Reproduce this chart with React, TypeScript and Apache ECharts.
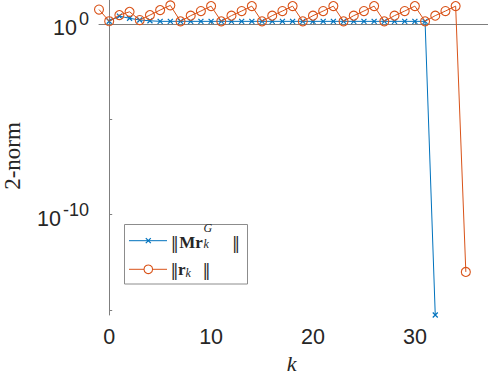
import React, { useEffect, useRef } from "react";
import * as echarts from "echarts";

// ---- data ----
const kBlue = [0, 1, 2, 3, 4, 5, 6, 7, 8, 9, 10, 11, 12, 13, 14, 15, 16, 17, 18, 19, 20, 21, 22, 23, 24, 25, 26, 27, 28, 29, 30, 31, 32];
const mrNorm = [1.4, 2.6, 2.0, 1.62, 1.48, 1.38, 1.38, 1.38, 1.38, 1.38, 1.38, 1.38, 1.38, 1.38, 1.38, 1.38, 1.38, 1.38, 1.38, 1.38, 1.38, 1.38, 1.38, 1.38, 1.38, 1.38, 1.38, 1.38, 1.38, 1.38, 1.38, 1.38, 5.5e-16];

const kRes = [-1, 0, 1, 2, 3, 4, 5, 6, 7, 8, 9, 10, 11, 12, 13, 14, 15, 16, 17, 18, 19, 20, 21, 22, 23, 24, 25, 26, 27, 28, 29, 30, 31, 32, 33, 34, 35];
const rNorm = [5.75, 1.4, 2.95, 4.37, 1.62, 2.95, 5.4, 9.5,
  1.38, 2.75, 4.8, 8.7,
  1.38, 2.75, 4.8, 8.7,
  1.38, 2.75, 4.8, 8.7,
  1.38, 2.75, 4.8, 8.7,
  1.38, 2.75, 4.8, 8.7,
  1.38, 2.75, 4.8, 8.7,
  1.38, 2.75, 4.8, 8.7,
  1.0e-13];

const xTicks = [0, 10, 20, 30];
const yTickExps = [0, -5, -10, -15];
const yLabelExps = [0, -10];

const BLUE = "#0072BD";
const ORANGE = "#D95319";
const AXIS = "#7f7f7f";
const TXT = "#262626";

function txt(x: number, y: number, text: string, size: number, family: string, opts: any = {}) {
  return {
    type: "text",
    x,
    y,
    rotation: opts.rotation || 0,
    style: {
      text,
      fontSize: size,
      fontFamily: family,
      fontWeight: opts.weight || "normal",
      fontStyle: opts.style || "normal",
      fill: TXT,
      textAlign: opts.align || "left",
      textVerticalAlign: "middle",
    },
  };
}

export default function App() {
  const ref = useRef<HTMLDivElement>(null);
  useEffect(() => {
    if (!ref.current) return;
    const chart = echarts.init(ref.current, null, { renderer: "svg" });
    const option: any = {
      animation: false,
      grid: { left: 99, top: 0, width: 397.4, height: 315, containLabel: false, outerBoundsMode: "none" },
      xAxis: {
        type: "value",
        min: -1,
        max: 38,
        axisLine: { show: true, lineStyle: { color: AXIS, width: 1 } },
        axisTick: { show: true, inside: true, length: 3, customValues: xTicks, lineStyle: { color: AXIS } },
        axisLabel: { customValues: xTicks, fontSize: 21.5, fontFamily: "Liberation Sans", color: TXT, margin: 11 },
        splitLine: { show: false },
      },
      yAxis: {
        type: "value",
        min: -15.26,
        max: 1.26,
        axisLine: { show: true, lineStyle: { color: AXIS, width: 1 } },
        axisTick: { show: true, inside: true, length: 3, customValues: yTickExps, lineStyle: { color: AXIS } },
        axisLabel: { show: false },
        splitLine: { show: false },
      },
      series: [
        {
          type: "line",
          data: kBlue.map((k, i) => [k, Math.log10(mrNorm[i])]),
          symbol: "path://M0,0L10,10M0,10L10,0",
          symbolSize: 5,
          lineStyle: { color: BLUE, width: 1 },
          itemStyle: { color: BLUE, borderColor: BLUE, borderWidth: 1.2 },
          clip: false,
          z: 2,
        },
        {
          type: "line",
          data: kRes.map((k, i) => [k, Math.log10(rNorm[i])]),
          symbol: "circle",
          symbolSize: 9,
          lineStyle: { color: ORANGE, width: 1 },
          itemStyle: { color: "rgba(0,0,0,0)", borderColor: ORANGE, borderWidth: 1.1 },
          clip: false,
          z: 3,
        },
      ],
    };
    chart.setOption(option);

    // y tick labels 10^e, placed with the axis scale
    const ctx = document.createElement("canvas").getContext("2d");
    const axisX = chart.convertToPixel({ xAxisIndex: 0 }, -1) as number;
    const yLabels: any[] = [];
    yLabelExps.forEach((e) => {
      const py = chart.convertToPixel({ yAxisIndex: 0 }, e) as number;
      const sup = String(e);
      let w = sup.length * 10;
      if (ctx) {
        ctx.font = "18px 'Liberation Sans'";
        w = ctx.measureText(sup).width;
      }
      const supRight = axisX - 10;
      yLabels.push(txt(supRight, py - 4.7, sup, 18, "Liberation Sans", { align: "right" }));
      yLabels.push(txt(supRight - w - 2, py + 4.3, "10", 21.5, "Liberation Sans", { align: "right" }));
    });

    const SERIF = "Liberation Serif";
    const BAR = "DejaVu Serif";
    const graphics: any[] = [
      ...yLabels,
      txt(291.7, 363, "k", 22, SERIF, { style: "italic", align: "center" }),
      txt(12, 156, "2-norm", 23, SERIF, { align: "center", rotation: Math.PI / 2 }),
      {
        type: "group",
        z: 100,
        children: [
          { type: "rect", shape: { x: 124.5, y: 224.5, width: 123, height: 59.5 }, style: { fill: "#fff", stroke: "#8c8c8c", lineWidth: 1 } },
          { type: "line", shape: { x1: 129, y1: 240.7, x2: 167, y2: 240.7 }, style: { stroke: BLUE, lineWidth: 1 } },
          { type: "line", shape: { x1: 145.8, y1: 238.2, x2: 150.8, y2: 243.2 }, style: { stroke: BLUE, lineWidth: 1.2 } },
          { type: "line", shape: { x1: 145.8, y1: 243.2, x2: 150.8, y2: 238.2 }, style: { stroke: BLUE, lineWidth: 1.2 } },
          { type: "line", shape: { x1: 129, y1: 269.3, x2: 167, y2: 269.3 }, style: { stroke: ORANGE, lineWidth: 1 } },
          { type: "circle", shape: { cx: 148.3, cy: 269.3, r: 4.3 }, style: { fill: "#fff", stroke: ORANGE, lineWidth: 1.1 } },
          // row 1: ||M r_k^G||
          txt(174.7, 243.3, "‖", 16, BAR, { align: "center" }),
          txt(179.3, 242, "Mr", 17, SERIF, { weight: "bold" }),
          txt(203.5, 228, "G", 12, SERIF, { style: "italic" }),
          txt(203.5, 244.2, "k", 12, SERIF, { style: "italic" }),
          txt(236, 243.3, "‖", 16, BAR, { align: "center" }),
          // row 2: ||r_k||
          txt(174.5, 270.5, "‖", 16, BAR, { align: "center" }),
          txt(178, 269.2, "r", 17, SERIF, { weight: "bold" }),
          txt(185.5, 273.4, "k", 12, SERIF, { style: "italic" }),
          txt(206.5, 270.5, "‖", 16, BAR, { align: "center" }),
        ],
      },
    ];
    chart.setOption({ graphic: graphics });
    return () => chart.dispose();
  }, []);
  return <div ref={ref} style={{ position: "fixed", left: 0, top: 0, width: 488, height: 375, background: "#fff" }} />;
}
